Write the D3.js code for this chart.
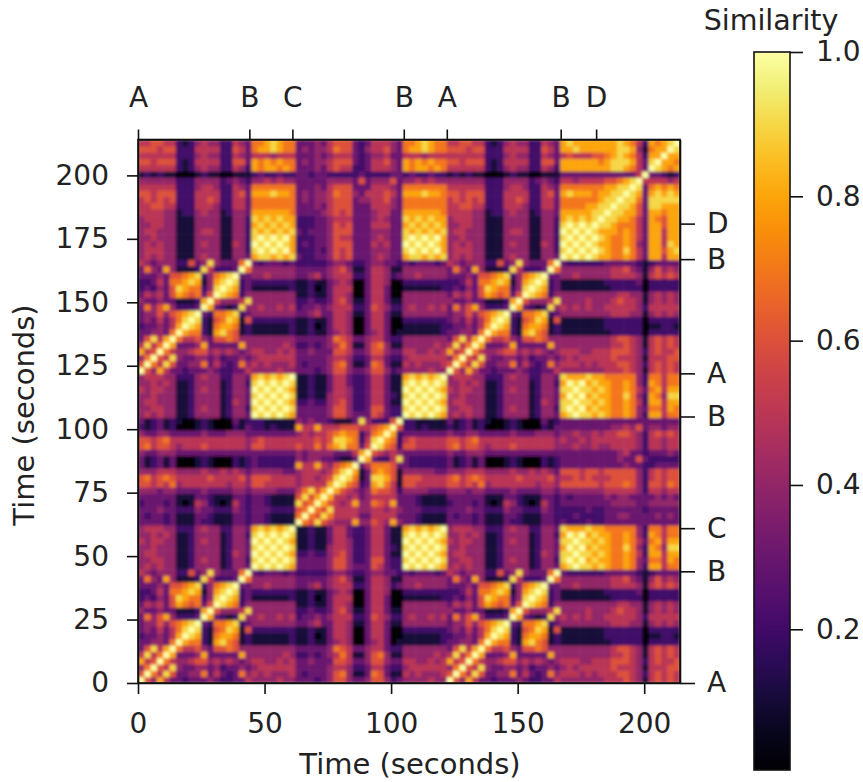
<!DOCTYPE html>
<html><head><meta charset="utf-8">
<script src="https://cdn.jsdelivr.net/npm/d3@7"></script>
<style>html,body{margin:0;padding:0;background:#fff}svg{display:block}text{font-family:"DejaVu Sans";fill:#222}</style>
</head><body><svg id="c" width="863" height="782"></svg>
<script>
// Similarity levels, one character per cell: 0..9,a = 0.0 .. 1.0
const sections = ["A","B","C","B","A","D"];
const AA = ["a","6a","47a","856a","5957a","36958a","334437a","2334358a","34353579a","344646789a","3746842223a","43343311128a","354536876736a","2324369877249a","22353778981489a","333436678924789a","3743841112952223a","54344422634943337a"];
const BB = ["a","9a","a9a","9a9a","a9a9a","9a9a9a","898989a"];
const CC = ["a","7a","67a","967a","6968a","57968a","455558a","4554569a","45554579a","855854678a","4344332113a","43444433358a","655757897736a","5556569987259a","45455678772478a","855855566655678a","4343321113942226a"];
const DD = ["a","9a","a9a","9a9a","a9a9a","9a9a9a","898989a","8888899a","77778899a","777777899a","89888788 99a".replace(" ",""),"7777777 8899a".replace(" ",""),"5545555 66789a".replace(" ",""),"3333333333335a","88888888998753a","8888887899985 39a".replace(" ",""),"56555667898752 88a".replace(" ",""),"889888888998417 88a".replace(" ",""),"8988888889875287 89a".replace(" ","")];
const BA = ["454544112444412443","445544112454412442","455444112444412543","445444112444412443","545544112454412443","445454112444412442","455544222454422443"];
const CA = ["333323111322111332","323323111332111332","333433222433222432","233323101542101532","333333111332111332","444344333343333443","665657455555554554","675676555556555564","444555444454454543","312313000121000212","312313000121000212","433444333333333333","675665455565555554","665675555555555554","433443333343334443","212312000121000213","312312100121000312"];
const CB = ["3321111","3321111","3332222","3321111","3321111","4444333","6655555","6665555","4444433","3222222","3222222","3333333","6655555","5655555","3333333","2212111","2211111"];
const DA = ["454544111454411443","455544111444411442","454544111454411542","445444111444411442","455444111455411442","445544111444411442","455544111444411442","555544122454412443","556655222555422553","565656222556522553","665666222555522563","555555222455422543","444444222444423432","121211000121100111","555555212454422542","665666212555522663","555555222454422543","666566222555522653","556655212454422543"];
const DB = ["8998989","9a9a9a8","a9a9a98","9a9a9a8","9898989","8989898","9898988","8888887","7777777","7777777","8889887","7777777","4454544","2322322","8788787","8787877","5554555","7889877","7789877"];
const DC = ["32233465633345433","22232465633344433","23233466633354533","22233465533345433","32333466633344433","22233465633355533","22233455533345433","33334565633345533","33343566633355543","34344566634455643","34344576643555653","33343566633355543","33333444436344463","33233222223222233","33343565522355543","34344566632355643","33343455532344533","34344576632455643","33343566632355543"];
const sectionTicks = [0,44,61,105,122,167,181];
const sectionLetters = ["A","B","C","B","A","B","D"];
const timeTicks = [0,25,50,75,100,125,150,175,200];
const xTimeTicks = [0,50,100,150,200];
const colorTicks = [0.2,0.4,0.6,0.8,1.0];
const stepSeconds = 2.49;

const order = {A:0,B:1,C:2,D:3};
const size = {A:18,B:7,C:17,D:19};
const rect = {BA,CA,CB,DA,DB,DC};
const tri = {A:AA,B:BB,C:CC,D:DD};
function level(X,i,Y,j){
  let s;
  if(X===Y){ const hi=Math.max(i,j), lo=Math.min(i,j); s=tri[X][hi][lo]; }
  else if(order[X]>order[Y]) s=rect[X+Y][i][j];
  else s=rect[Y+X][j][i];
  return parseInt(s===undefined?"4":s,16)/10;
}
const cellIndex=[]; sections.forEach(s=>{for(let k=0;k<size[s];k++)cellIndex.push([s,k]);});
const n=cellIndex.length;
const cells=[];
cellIndex.forEach((r,ri)=>cellIndex.forEach((c,ci)=>cells.push({row:ri,col:ci,v:level(r[0],r[1],c[0],c[1])})));

const svg=d3.select("#c");
const x=d3.scaleLinear().domain([0,n*stepSeconds]).range([138,680]);
const y=d3.scaleLinear().domain([0,n*stepSeconds]).range([683,139.5]);
const vmin=0.005;
const color=v=>d3.interpolateInferno((Math.max(v,vmin)-vmin)/(1-vmin));

const defs=svg.append("defs");
defs.append("filter").attr("id","soft").attr("x","0").attr("y","0").attr("width","1").attr("height","1")
  .append("feGaussianBlur").attr("stdDeviation",1.5).attr("edgeMode","duplicate");
const g=svg.append("g").attr("filter","url(#soft)");
g.selectAll("rect").data(cells).join("rect")
 .attr("x",d=>x(d.col*stepSeconds)).attr("y",d=>y((d.row+1)*stepSeconds))
 .attr("width",d=>x((d.col+1)*stepSeconds)-x(d.col*stepSeconds)+0.5)
 .attr("height",d=>y(d.row*stepSeconds)-y((d.row+1)*stepSeconds)+0.5)
 .attr("fill",d=>color(d.v));

function style(sel,fs){
  sel.selectAll("path").attr("stroke","#111").attr("stroke-width",1.6);
  sel.selectAll("line").attr("stroke","#111").attr("stroke-width",1.6);
  sel.selectAll("text").attr("font-size",fs).style("font-family","DejaVu Sans").attr("fill","#222");
}
const fs=28;
const gb=svg.append("g").attr("transform","translate(0,683)").call(d3.axisBottom(x).tickValues(xTimeTicks).tickSize(11).tickPadding(19).tickSizeOuter(0));
style(gb,fs);
const gl=svg.append("g").attr("transform","translate(138,0)").call(d3.axisLeft(y).tickValues(timeTicks).tickSize(11).tickPadding(18).tickSizeOuter(0));
style(gl,fs);
const gt=svg.append("g").attr("transform","translate(0,139.5)").call(d3.axisTop(x).tickValues(sectionTicks).tickFormat((d,i)=>sectionLetters[i]).tickSize(10).tickPadding(23).tickSizeOuter(0));
style(gt,fs);
const gr=svg.append("g").attr("transform","translate(680,0)").call(d3.axisRight(y).tickValues(sectionTicks).tickFormat((d,i)=>sectionLetters[i]).tickSize(15).tickPadding(12).tickSizeOuter(0));
style(gr,fs);
svg.append("text").attr("x",410).attr("y",774).attr("text-anchor","middle").attr("font-size",29).text("Time (seconds)");
svg.append("text").attr("transform","translate(34,415) rotate(-90)").attr("text-anchor","middle").attr("font-size",29).text("Time (seconds)");

// colorbar
const cb=d3.scaleLinear().domain([vmin,1]).range([770,52]);
const grad=defs.append("linearGradient").attr("id","inf").attr("x1",0).attr("x2",0).attr("y1",1).attr("y2",0);
d3.range(0,1.0001,0.05).forEach(t=>grad.append("stop").attr("offset",t).attr("stop-color",d3.interpolateInferno(t)));
svg.append("rect").attr("x",754).attr("y",52).attr("width",36).attr("height",718).attr("fill","url(#inf)").attr("stroke","#111").attr("stroke-width",1.6);
const gc=svg.append("g").attr("transform","translate(790,0)").call(d3.axisRight(cb).tickValues(colorTicks).tickFormat(d3.format(".1f")).tickSize(13).tickPadding(13).tickSizeOuter(0));
gc.select("path").remove();
style(gc,fs);
svg.append("text").attr("x",771).attr("y",30).attr("text-anchor","middle").attr("font-size",28.5).text("Similarity");
// spines on top of the heatmap
svg.append("rect").attr("x",138).attr("y",139.5).attr("width",542).attr("height",543.5).attr("fill","none").attr("stroke","#111").attr("stroke-width",1.6);
</script></body></html>
